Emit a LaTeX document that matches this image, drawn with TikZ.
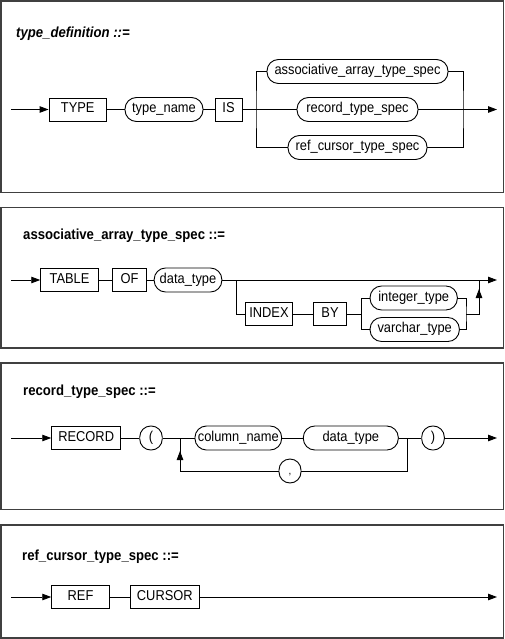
\documentclass[tikz,border=0pt]{standalone}
\usepackage{fontspec}
\setmainfont{Liberation Sans}[FakeStretch=0.9]
\usetikzlibrary{arrows.meta}
\tikzset{
  base/.style={inner sep=0pt, line width=0.9pt, text height=9.8pt, text depth=3pt, font=\fontsize{14.3}{16}\selectfont},
  kw/.style={base, draw, rectangle, minimum height=23pt},
  nt/.style={base, draw, rectangle, rounded corners=11.5pt, minimum height=24pt},
  ln/.style={line width=0.9pt},
  arr/.style={line width=0.9pt, -{Triangle[length=9pt,width=6.5pt]}},
  panel/.style={draw=black!75, line width=1.2pt},
  ttl/.style={anchor=west, inner sep=0pt, font=\fontsize{14.6}{16}\selectfont\bfseries}
}
\begin{document}
\begin{tikzpicture}[x=1pt,y=-1pt]
\useasboundingbox (0,0) rectangle (505,639);
% panels
\draw[panel] (1,1) rectangle (503.5,192.5);
\draw[panel] (1,207.5) rectangle (503.5,348);
\draw[panel] (1,363) rectangle (503.5,509.5);
\draw[panel] (1,525) rectangle (503.5,638);

% ---------- panel 1 ----------
\node[ttl, font=\fontsize{14.6}{16}\selectfont\bfseries\itshape] (t1) at (16,34) {type\_definition ::=};
\node[kw, minimum width=57.5pt] (TYPE) at (77.75,109.5) {TYPE};
\node[nt, minimum width=78pt] (tname) at (164,109.5) {type\_name};
\node[kw, minimum width=27pt] (IS) at (228.5,109.5) {IS};
\node[nt, minimum width=181pt] (assoc) at (357.5,71.5) {associative\_array\_type\_spec};
\node[nt, minimum width=121pt] (rts) at (357.5,109.5) {record\_type\_spec};
\node[nt, minimum width=139pt] (rcts) at (357.5,147.5) {ref\_cursor\_type\_spec};
\coordinate (s1) at (11,109.5);
\coordinate (e1) at (497,109.5);
\coordinate (L1) at (256,109.5);
\coordinate (R1) at (463,109.5);
\draw[arr] (s1) -- (TYPE.west);
\draw[ln] (TYPE.east) -- (tname.west);
\draw[ln] (tname.east) -- (IS.west);
\draw[ln] (IS.east) -- (rts.west);
\draw[arr] (rts.east) -- (e1);
\draw[ln] (assoc.west) -| (L1) |- (rcts.west);
\draw[ln] (assoc.east) -| (R1) |- (rcts.east);

% ---------- panel 2 ----------
\node[ttl] (t2) at (23,236) {associative\_array\_type\_spec ::=};
\node[kw, minimum width=57.6pt] (TABLE) at (69.5,280) {TABLE};
\node[kw, minimum width=34.4pt] (OF) at (129.5,280) {OF};
\node[nt, minimum width=67.7pt] (dt2) at (188,280) {data\_type};
\node[kw, minimum width=47.7pt] (INDEX) at (269,314) {INDEX};
\node[kw, minimum width=33.4pt] (BY) at (330,314) {BY};
\node[nt, minimum width=87.3pt] (int) at (413.7,298) {integer\_type};
\node[nt, minimum width=89.3pt] (var) at (414.7,329.5) {varchar\_type};
\coordinate (s2) at (11,280);
\coordinate (e2) at (497,280);
\coordinate (d2) at (236,280);
\coordinate (sp2) at (361.7,314);
\coordinate (jn2) at (466,314);
\coordinate (ub2) at (479,314);
\coordinate (um2) at (479,289);
\coordinate (ut2) at (479,280);
\draw[arr] (s2) -- (TABLE.west);
\draw[ln] (TABLE.east) -- (OF.west);
\draw[ln] (OF.east) -- (dt2.west);
\draw[arr] (dt2.east) -- (e2);
\draw[ln] (d2) |- (INDEX.west);
\draw[ln] (INDEX.east) -- (BY.west);
\draw[ln] (BY.east) -- (sp2);
\draw[ln] (int.west) -| (sp2) |- (var.west);
\draw[ln] (int.east) -| (jn2) |- (var.east);
\draw[ln] (jn2) -- (ub2) -- (ut2);
\draw[arr] (ub2) -- (um2);

% ---------- panel 3 ----------
\node[ttl] (t3) at (23,392) {record\_type\_spec ::=};
\node[kw, minimum width=69pt] (RECORD) at (86.2,438) {RECORD};
\node[nt, minimum width=22.5pt, rounded corners=11pt] (lp) at (151,438) {(};
\node[nt, minimum width=86.7pt] (cn) at (238.3,438) {column\_name};
\node[nt, minimum width=95pt] (dt3) at (350.8,438) {data\_type};
\node[nt, minimum width=22.6pt, rounded corners=11pt] (rp) at (433,438) {)};
\node[nt, minimum width=22pt, rounded corners=11pt, font=\fontsize{11}{12}\selectfont] (comma) at (290,471) {,};
\coordinate (s3) at (11,438);
\coordinate (e3) at (497,438);
\coordinate (lx) at (180,438);
\coordinate (lb) at (180,471);
\coordinate (lm) at (180,451);
\coordinate (rx) at (407.3,438);
\draw[arr] (s3) -- (RECORD.west);
\draw[ln] (RECORD.east) -- (lp.west);
\draw[ln] (lp.east) -- (cn.west);
\draw[ln] (cn.east) -- (dt3.west);
\draw[ln] (dt3.east) -- (rp.west);
\draw[arr] (rp.east) -- (e3);
\draw[ln] (rx) |- (comma.east);
\draw[ln] (comma.west) -- (lb) -- (lx);
\draw[arr] (lb) -- (lm);

% ---------- panel 4 ----------
\node[ttl] (t4) at (22,557) {ref\_cursor\_type\_spec ::=};
\node[kw, minimum width=57.6pt] (REF) at (80.5,597) {REF};
\node[kw, minimum width=68.3pt] (CURSOR) at (164.8,597) {CURSOR};
\coordinate (s4) at (11,597);
\coordinate (e4) at (497,597);
\draw[arr] (s4) -- (REF.west);
\draw[ln] (REF.east) -- (CURSOR.west);
\draw[arr] (CURSOR.east) -- (e4);
\end{tikzpicture}
\end{document}
